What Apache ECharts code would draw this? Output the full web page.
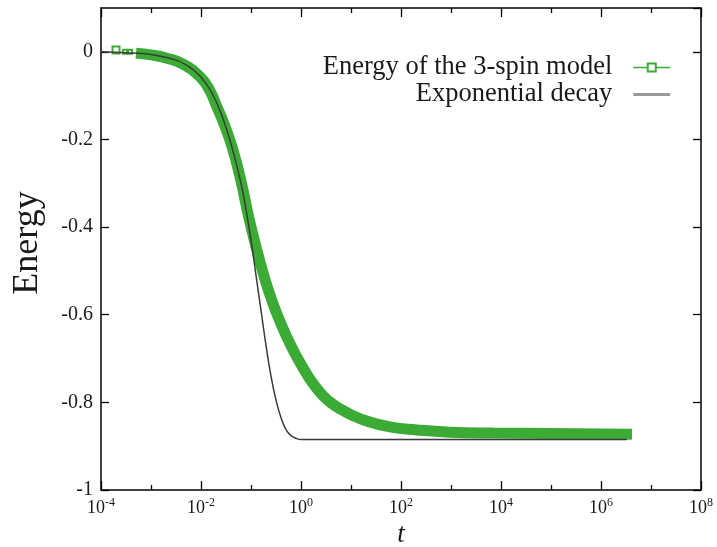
<!DOCTYPE html>
<html>
<head>
<meta charset="utf-8">
<script src="https://cdn.jsdelivr.net/npm/echarts@6/dist/echarts.min.js"></script>
<style>
html,body{margin:0;padding:0;background:#fff;}
#chart{width:717px;height:547px;}
</style>
</head>
<body>
<div id="chart"></div>
<script>
// x values are log10(t)
const xTickExponents = [-4, -2, 0, 2, 4, 6, 8];
const yTickValues = [-1, -0.8, -0.6, -0.4, -0.2, 0];

const spinLogT = [-3.3, -3.0, -2.7, -2.36, -2.02, -1.84, -1.68, -1.52, -1.36, -1.2, -1.05, -0.9, -0.75, -0.6, -0.45, -0.3, -0.15, 0.0, 0.15, 0.3, 0.45, 0.6, 0.8, 1.0, 1.3, 1.78, 2.32, 2.98, 3.84, 4.98, 6.0, 6.62];
const spinEnergy = [-0.003, -0.007, -0.014, -0.028, -0.057, -0.085, -0.126, -0.17, -0.224, -0.295, -0.375, -0.445, -0.508, -0.562, -0.607, -0.647, -0.682, -0.713, -0.742, -0.766, -0.786, -0.801, -0.816, -0.828, -0.842, -0.856, -0.863, -0.868, -0.870, -0.871, -0.872, -0.873];

const spinStartLogT = [-3.7, -3.52, -3.42];
const spinStartEnergy = [0.004, 0.0, 0.0];

const expLogT = [-4, -3.5, -3, -2.5, -2.2, -2.0, -1.8, -1.6, -1.4, -1.2, -1.1, -1.0, -0.9, -0.8, -0.7, -0.6, -0.5, -0.4, -0.3, -0.2, -0.1, 0, 0.5, 6.52];
const expEnergy = [0.0, -0.002, -0.006, -0.019, -0.037, -0.058, -0.09, -0.14, -0.21, -0.30, -0.36, -0.43, -0.51, -0.59, -0.67, -0.74, -0.795, -0.835, -0.862, -0.876, -0.882, -0.885, -0.885, -0.885];

const GREEN = '#3cab35';
const SERIF = 'Liberation Serif';
const TEXT = '#1a1a1a';

const chart = echarts.init(document.getElementById('chart'), null, {renderer: 'canvas'});

const axisLine = {show: true, onZero: false, lineStyle: {color: '#000', width: 1.5}};
const xTickCommon = {
  type: 'value', min: -4, max: 8, interval: 2,
  axisLine: axisLine,
  axisTick: {show: true, inside: true, length: 9, lineStyle: {color: '#000', width: 1.3}},
  minorTick: {show: true, splitNumber: 2, length: 5, lineStyle: {color: '#000', width: 1.3}},
  splitLine: {show: false}, minorSplitLine: {show: false}
};
const yCommon = {
  type: 'value', min: -1, max: 0.1, interval: 0.2,
  axisLine: axisLine,
  axisTick: {show: true, inside: true, length: 8, lineStyle: {color: '#000', width: 1.3}},
  splitLine: {show: false}
};

chart.setOption({
  animation: false,
  backgroundColor: '#fff',
  grid: {left: 101, right: 16, top: 8, bottom: 57, containLabel: false, outerBoundsMode: 'none'},
  legend: {
    orient: 'vertical', right: 41, top: 49, align: 'right',
    itemWidth: 37, itemHeight: 10, itemGap: 0,
    textStyle: {fontFamily: SERIF, fontSize: 26.5, color: TEXT, padding: [0, 16, 0, 0]},
    data: [
      {name: 'Energy of the 3-spin model', lineStyle: {width: 1.5, color: GREEN}, itemStyle: {color: GREEN}},
      {name: 'Exponential decay', icon: 'path://M0,0L40,0L40,3L0,3Z', itemStyle: {color: '#999'}}
    ]
  },
  xAxis: [
    Object.assign({}, xTickCommon, {
      position: 'bottom',
      name: 't', nameLocation: 'middle', nameGap: 27,
      nameTextStyle: {fontFamily: SERIF, fontSize: 27, fontStyle: 'italic', color: TEXT},
      axisLabel: {
        show: true, margin: 7,
        formatter: function (v) {
          if (xTickExponents.indexOf(v) < 0) return '';
          return '{b|10}{s|' + v + '}';
        },
        rich: {
          b: {fontFamily: SERIF, fontSize: 18, color: TEXT, verticalAlign: 'bottom'},
          s: {fontFamily: SERIF, fontSize: 12, color: TEXT, verticalAlign: 'bottom', padding: [0, 0, 8, 0]}
        }
      }
    }),
    Object.assign({}, xTickCommon, {position: 'top', axisLabel: {show: false}})
  ],
  yAxis: [
    Object.assign({}, yCommon, {
      position: 'left',
      name: 'Energy', nameLocation: 'middle', nameGap: 55,
      nameTextStyle: {fontFamily: SERIF, fontSize: 36, color: TEXT, padding: [0, 0, 0, 12]},
      axisLabel: {
        show: true, margin: 8, showMaxLabel: false,
        fontFamily: SERIF, fontSize: 20, color: TEXT,
        formatter: function (v) {
          const r = Math.round(v * 10) / 10;
          return yTickValues.indexOf(r) < 0 ? '' : String(r);
        }
      }
    }),
    Object.assign({}, yCommon, {position: 'right', axisLabel: {show: false}})
  ],
  series: [
    {
      name: 'Energy of the 3-spin model', type: 'line',
      data: spinLogT.map((x, i) => [x, spinEnergy[i]]),
      symbol: 'emptyRect', showSymbol: false, smooth: 0.5,
      lineStyle: {color: GREEN, width: 11},
      itemStyle: {color: GREEN}, z: 2
    },
    {
      name: 'spin-start', type: 'line',
      data: spinStartLogT.map((x, i) => ({value: [x, spinStartEnergy[i]], symbolSize: i === 0 ? 7 : 4})),
      symbol: 'emptyRect', showSymbol: true,
      lineStyle: {opacity: 0},
      itemStyle: {color: GREEN, borderWidth: 1.3}, z: 2
    },
    {
      name: 'Exponential decay', type: 'line',
      data: expLogT.map((x, i) => [x, expEnergy[i]]),
      symbol: 'none', smooth: 0.4,
      lineStyle: {color: '#3a3a3a', width: 1.5},
      itemStyle: {color: '#3a3a3a'}, z: 3
    }
  ]
});
</script>
</body>
</html>
